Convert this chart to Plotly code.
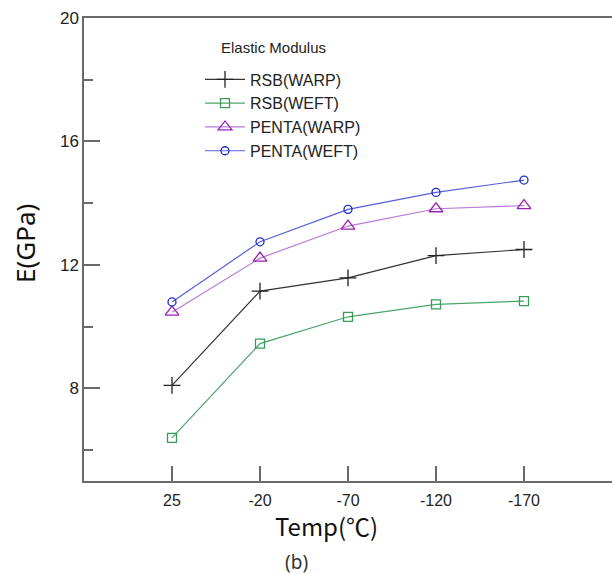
import plotly.graph_objects as go

# Test temperatures (°C) and elastic modulus (GPa) per material/direction
temps = ["25", "-20", "-70", "-120", "-170"]
rsb_warp = [8.1, 11.15, 11.58, 12.3, 12.5]
rsb_weft = [6.4, 9.45, 10.32, 10.72, 10.83]
penta_warp = [10.47, 12.22, 13.26, 13.82, 13.92]
penta_weft = [10.8, 12.75, 13.8, 14.35, 14.75]

series = [
    ("RSB(WARP)", rsb_warp, "#333333", "#222222", "cross-thin", 12),
    ("RSB(WEFT)", rsb_weft, "#4aa56a", "#3a9a5a", "square-open", 9),
    ("PENTA(WARP)", penta_warp, "#b878d8", "#9a22b4", "triangle-up-open", 12),
    ("PENTA(WEFT)", penta_weft, "#5560d8", "#1c2ccc", "circle-open", 8),
]

font_main = "Liberation Sans, Arial, sans-serif"

fig = go.Figure()
for i, (name, vals, lc, mc, sym, sz) in enumerate(series):
    fig.add_trace(go.Scatter(
        x=temps, y=vals, name=name, mode="lines+markers",
        legendgroup=f"g{i}",
        line=dict(color=lc, width=1.2),
        marker=dict(symbol=sym, size=sz, color=mc,
                    line=dict(color=mc, width=1.3)),
    ))

axis_color = "#6a6a6a"

fig.update_layout(
    width=612, height=574,
    margin=dict(l=84, r=0, t=18, b=93),
    paper_bgcolor="white", plot_bgcolor="white",
    font=dict(family=font_main, color="#222222"),
    showlegend=True,
    legend=dict(
        x=(200 - 84) / 528, y=0.904, xanchor="left", yanchor="top",
        bgcolor="rgba(0,0,0,0)", font=dict(size=16, color="#222222"),
        tracegroupgap=0, itemwidth=40,
    ),
    xaxis=dict(
        type="category", range=[-1, 5],
        showline=True, linecolor=axis_color, linewidth=1.5, mirror=True,
        ticks="inside", ticklen=15, tickwidth=1.5, tickcolor=axis_color,
        tickfont=dict(size=16, color="#222222"),
        ticklabelstandoff=4,
        showgrid=False, zeroline=False,
    ),
    yaxis=dict(
        range=[5, 20],
        tickvals=[8, 12, 16, 20],
        showline=True, linecolor=axis_color, linewidth=1.5,
        ticks="inside", ticklen=16, tickwidth=1.5, tickcolor=axis_color,
        tickfont=dict(size=17, color="#222222"),
        minor=dict(tickvals=[6, 10, 14, 18], ticks="inside", ticklen=9,
                   tickwidth=1.5, tickcolor=axis_color),
        showgrid=False, zeroline=False,
    ),
    annotations=[
        dict(text="Elastic Modulus", xref="paper", yref="paper",
             x=(273 - 84) / 528, y=1 - (47 - 18) / 463, yanchor="middle",
             showarrow=False, font=dict(size=15, color="#222222")),
        dict(text="Temp(℃)", xref="paper", yref="paper",
             x=(326 - 84) / 528, y=-(525 - 481) / 463, yanchor="middle",
             borderpad=0,
             showarrow=False, font=dict(size=24, color="#111111",
                                         family="Noto Sans CJK KR, Noto Sans, sans-serif")),
        dict(text="(b)", xref="paper", yref="paper",
             x=(296 - 84) / 528, y=-(562 - 481) / 463, yanchor="middle",
             showarrow=False, font=dict(size=19, color="#333333",
                                         family="Noto Sans, sans-serif")),
        dict(text="E(GPa)", xref="paper", yref="paper",
             x=-(84 - 25) / 528, y=(481 - 244) / 463, textangle=-90,
             xanchor="center", yanchor="middle",
             showarrow=False, font=dict(size=26, color="#111111",
                                         family="Noto Sans, sans-serif")),
    ],
)

fig.write_html("out.html")
